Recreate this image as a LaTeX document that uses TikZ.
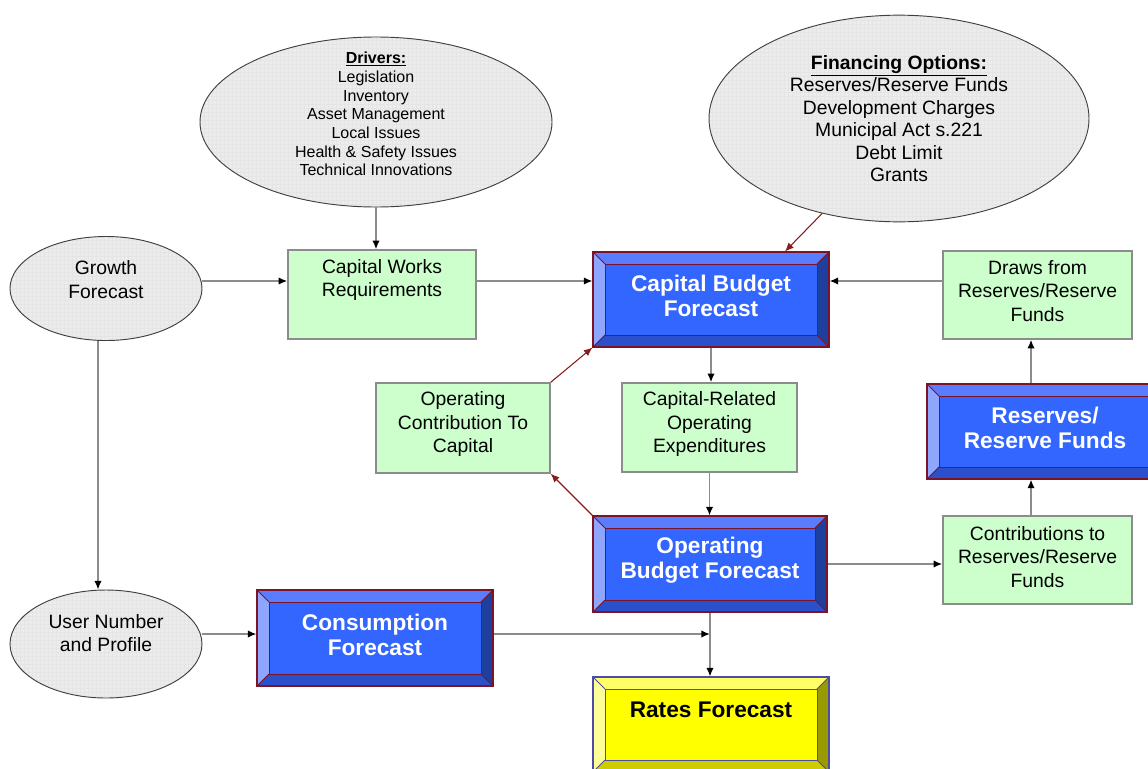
\documentclass[tikz,border=0pt]{standalone}
\usepackage{fontspec}
\setmainfont{Liberation Sans}
\usetikzlibrary{arrows.meta,patterns,shapes.geometric,calc}
\definecolor{gfill}{HTML}{CCFFCC}
\definecolor{gline}{HTML}{8C8C8C}
\definecolor{bface}{HTML}{3366FF}
\definecolor{btop}{HTML}{5A7DFF}
\definecolor{bleft}{HTML}{8FA6FF}
\definecolor{bright}{HTML}{1F3F9E}
\definecolor{bbot}{HTML}{2A50CC}
\definecolor{bedge}{HTML}{7A1426}
\definecolor{yface}{HTML}{FFFF00}
\definecolor{ytop}{HTML}{FFFF66}
\definecolor{yleft}{HTML}{FFFF99}
\definecolor{yright}{HTML}{999900}
\definecolor{ybot}{HTML}{CCCC00}
\definecolor{yedge}{HTML}{4D4DA6}
\definecolor{redarrow}{HTML}{8B1A1A}
\definecolor{efill}{HTML}{ECECEC}
\tikzset{
  ell/.style={ellipse, inner sep=0pt, draw=black!75, line width=0.7pt,
    preaction={fill=efill}, pattern=grid, pattern color=black!10},
  etxt/.style={align=center, inner sep=0pt, text=black},
  gbox/.style={rectangle, inner sep=0pt, draw=gline, line width=1.1pt, fill=gfill},
  gtxt/.style={align=center, inner sep=0pt, text=black, font=\fontsize{14.5}{17.6}\selectfont},
  btxt/.style={align=center, inner sep=0pt, text=white, font=\bfseries\fontsize{17}{18.75}\selectfont},
  ytxt/.style={align=center, inner sep=0pt, text=black, font=\bfseries\fontsize{17}{18.75}\selectfont},
  bevelbox/.style n args={6}{rectangle, inner sep=0pt, fill=#1, draw=#6, line width=0.8pt,
    path picture={
      \fill[#2] (path picture bounding box.north west) -- (path picture bounding box.north east)
        -- ([shift={(-9pt,-9pt)}]path picture bounding box.north east)
        -- ([shift={(9pt,-9pt)}]path picture bounding box.north west) -- cycle;
      \fill[#3] (path picture bounding box.north west) -- ([shift={(9pt,-9pt)}]path picture bounding box.north west)
        -- ([shift={(9pt,9pt)}]path picture bounding box.south west)
        -- (path picture bounding box.south west) -- cycle;
      \fill[#4] (path picture bounding box.north east) -- (path picture bounding box.south east)
        -- ([shift={(-9pt,9pt)}]path picture bounding box.south east)
        -- ([shift={(-9pt,-9pt)}]path picture bounding box.north east) -- cycle;
      \fill[#5] (path picture bounding box.south west) -- (path picture bounding box.south east)
        -- ([shift={(-9pt,9pt)}]path picture bounding box.south east)
        -- ([shift={(9pt,9pt)}]path picture bounding box.south west) -- cycle;
      \draw[#6, line width=0.6pt]
        ([shift={(9pt,-9pt)}]path picture bounding box.north west) rectangle
        ([shift={(-9pt,9pt)}]path picture bounding box.south east);
      \draw[#6, line width=0.6pt]
        (path picture bounding box.north west) -- ([shift={(9pt,-9pt)}]path picture bounding box.north west)
        (path picture bounding box.north east) -- ([shift={(-9pt,-9pt)}]path picture bounding box.north east)
        (path picture bounding box.south west) -- ([shift={(9pt,9pt)}]path picture bounding box.south west)
        (path picture bounding box.south east) -- ([shift={(-9pt,9pt)}]path picture bounding box.south east);
    }},
  bluebox/.style={bevelbox={bface}{btop}{bleft}{bright}{bbot}{bedge}},
  yellowbox/.style={bevelbox={yface}{ytop}{yleft}{yright}{ybot}{yedge}},
  garrow/.style={draw=gline, line width=1.1pt, -{Latex[length=6.5pt,width=5.5pt,color=black]}},
  rarrow/.style={draw=redarrow, line width=0.8pt, -{Latex[length=6.5pt,width=5.5pt]}}
}
\begin{document}
\begin{tikzpicture}[x=0.75pt, y=-0.75pt]
\useasboundingbox (0,0) rectangle (1148,768);
\clip (0,0) rectangle (1148,768);
\fill[white] (0,0) rectangle (1148,768);

% ellipses
\node[ell, minimum width=264pt, minimum height=127.5pt,
  label={[etxt, font=\fontsize{12}{14}\selectfont, yshift=6pt]center:{\textbf{\underline{Drivers:}}\\Legislation\\Inventory\\Asset Management\\Local Issues\\Health \& Safety Issues\\Technical Innovations}}]
  (drivers) at (376,122) {};
\node[ell, minimum width=285pt, minimum height=155pt,
  label={[etxt, font=\fontsize{14.5}{16.8}\selectfont]center:{\textbf{\underline{Financing Options:}}\\Reserves/Reserve Funds\\Development Charges\\Municipal Act s.221\\Debt Limit\\Grants}}]
  (fin) at (899,118.5) {};
\node[ell, minimum width=144pt, minimum height=78pt,
  label={[etxt, font=\fontsize{14.5}{17.4}\selectfont, yshift=6.75pt]center:{Growth\\Forecast}}]
  (growth) at (106,288.5) {};
\node[ell, minimum width=144pt, minimum height=81pt,
  label={[etxt, font=\fontsize{14.5}{17.4}\selectfont, yshift=8.25pt]center:{User Number\\and Profile}}]
  (user) at (106,644) {};

% green boxes
\node[gbox, minimum width=141pt, minimum height=66.75pt,
  label={[gtxt, yshift=10.9pt]center:{Capital Works\\Requirements}}] (cwr) at (382,294.5) {};
\node[gbox, minimum width=130.5pt, minimum height=67.5pt,
  label={[gtxt, yshift=3pt]center:{Operating\\Contribution To\\Capital}}] (occ) at (463,428) {};
\node[gbox, minimum width=131.25pt, minimum height=66.75pt,
  label={[gtxt, yshift=2.6pt]center:{Capital-Related\\Operating\\Expenditures}}] (croe) at (709.5,427.5) {};
\node[gbox, minimum width=141.75pt, minimum height=66pt,
  label={[gtxt, yshift=3pt]center:{Draws from\\Reserves/Reserve\\Funds}}] (draws) at (1037.5,295) {};
\node[gbox, minimum width=141.75pt, minimum height=66pt,
  label={[gtxt, yshift=2.25pt]center:{Contributions to\\Reserves/Reserve\\Funds}}] (contrib) at (1037.5,560) {};

% bevel boxes
\node[bluebox, minimum width=177pt, minimum height=71.25pt,
  label={[btxt, yshift=3pt]center:{Capital Budget\\Forecast}}] (cbf) at (711,299.5) {};
\node[bluebox, minimum width=175.5pt, minimum height=72pt,
  label={[btxt, yshift=2.6pt]center:{Operating\\Budget Forecast}}] (obf) at (710,564) {};
\node[bluebox, minimum width=177pt, minimum height=71.25pt,
  label={[btxt, yshift=3pt]center:{Reserves/\\Reserve Funds}}] (res) at (1045,431.5) {};
\node[bluebox, minimum width=177pt, minimum height=72pt,
  label={[btxt, yshift=2.6pt]center:{Consumption\\Forecast}}] (cons) at (375,638) {};
\node[yellowbox, minimum width=177pt, minimum height=71.25pt,
  label={[ytxt, yshift=10.9pt]center:{Rates Forecast}}] (rates) at (711,724.5) {};

% helper coordinates
\coordinate (row1) at (0,281);
\coordinate (row3) at (0,634);
\coordinate (colg) at (98,0);
\coordinate (colr) at (1031,0);
\coordinate (j) at (710,634);

% connectors
\draw[garrow] (drivers.south) -- (drivers.south |- cwr.north);
\draw[garrow] (growth.east |- row1) -- (cwr.west |- row1);
\draw[garrow] (cwr.east |- row1) -- (cbf.west |- row1);
\draw[garrow] (draws.west |- row1) -- (cbf.east |- row1);
\draw[rarrow] (fin.231) -- ([xshift=55.5pt]cbf.north);
\draw[garrow] (cbf.south) -- (cbf.south |- croe.north);
\draw[garrow] (croe.south) -- (croe.south |- obf.north);
\draw[rarrow] (obf.north west) -- (occ.south east);
\draw[rarrow] (occ.north east) -- (cbf.south west);
\draw[garrow] (obf.east) -- (obf.east -| contrib.west);
\draw[garrow] (contrib.north -| colr) -- (res.south -| colr);
\draw[garrow] (res.north -| colr) -- (draws.south -| colr);
\draw[garrow] (growth.south -| colg) -- (user.north -| colg);
\draw[garrow] (user.east |- row3) -- (cons.west |- row3);
\draw[garrow] (cons.east |- row3) -- (j);
\draw[garrow] (obf.south) -- (obf.south |- rates.north);
\end{tikzpicture}
\end{document}
